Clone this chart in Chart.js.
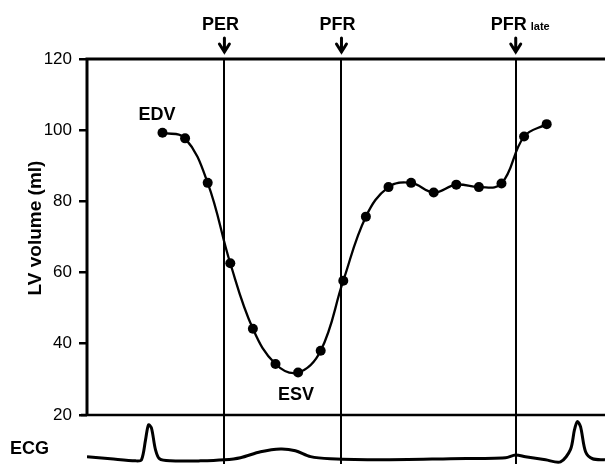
<!DOCTYPE html>
<html>
<head>
<meta charset="utf-8">
<script src="https://cdn.jsdelivr.net/npm/chart.js@4.4.1/dist/chart.umd.min.js"></script>
<style>
  body { margin: 0; background: #fff; }
  #wrap { width: 605px; height: 464px; }
</style>
</head>
<body>
<div id="wrap"><canvas id="lvChart"></canvas></div>
<script>
// frame numbers and LV volume (ml)
const frames = [1, 2, 3, 4, 5, 6, 7, 8, 9, 10, 11, 12, 13, 14, 15, 16, 17, 18];
const lvVolume = [99.3, 97.7, 85.2, 62.6, 44.2, 34.3, 31.9, 38.0, 57.7, 75.7, 84.0, 85.2, 82.5, 84.7, 84.0, 85.0, 98.2, 101.7];

// ECG trace (arbitrary mV-ish units) on the same frame axis
const ecgX = [-2.34, -1.3, -0.19, 0.07, 0.25, 0.38, 0.51, 0.69, 0.87, 1.35, 2.68, 3.74, 4.45, 5.34, 6.22, 6.88, 7.55, 8.43, 10.65, 13.74, 16.18, 16.62, 17.06, 17.95, 18.61, 19.05, 19.23, 19.36, 19.5, 19.72, 20.03, 20.58];
const ecgY = [0.09, 0.03, -0.03, 0.0, 0.57, 1.0, 0.91, 0.29, 0.03, -0.03, -0.03, 0.0, 0.06, 0.23, 0.31, 0.26, 0.09, 0.03, 0.0, 0.03, 0.06, 0.14, 0.09, 0.0, -0.06, 0.29, 0.86, 1.09, 0.94, 0.23, 0.03, 0.0];

const yTicks = [20, 40, 60, 80, 100, 120];

// event markers
const markerNames = ['PER', 'PFR', 'PFR'];
const markerSub = ['', '', 'late'];
const markerX = [3.74, 8.92, 16.63];

const FONT = '"Liberation Sans", Arial, sans-serif';

const overlay = {
  id: 'overlay',
  beforeDatasetsDraw(chart) {
    const { ctx, chartArea, scales } = chart;
    ctx.save();
    ctx.strokeStyle = '#000';
    ctx.lineWidth = 2;
    markerX.forEach(v => {
      const px = Math.round(scales.x.getPixelForValue(v));
      ctx.beginPath();
      ctx.moveTo(px, chartArea.top);
      ctx.lineTo(px, chartArea.bottom);
      ctx.stroke();
    });
    // axes frame
    const yTop = scales.y.getPixelForValue(120);
    const yBot = scales.y.getPixelForValue(20);
    ctx.lineWidth = 3;
    ctx.beginPath();
    ctx.moveTo(chartArea.left, yTop);
    ctx.lineTo(chartArea.right, yTop);
    ctx.moveTo(chartArea.left, yTop - 1.5);
    ctx.lineTo(chartArea.left, yBot);
    ctx.stroke();
    ctx.lineWidth = 2.5;
    ctx.beginPath();
    ctx.moveTo(chartArea.left - 6, yBot);
    ctx.lineTo(chartArea.right, yBot);
    ctx.stroke();
    ctx.restore();
  },
  afterDraw(chart) {
    const { ctx, scales } = chart;
    ctx.save();
    ctx.fillStyle = '#000';
    ctx.strokeStyle = '#000';
    ctx.textBaseline = 'alphabetic';

    markerX.forEach((v, i) => {
      const px = scales.x.getPixelForValue(v);
      ctx.font = 'bold 18px ' + FONT;
      const w = ctx.measureText(markerNames[i]).width;
      ctx.textAlign = 'left';
      if (markerSub[i]) {
        ctx.fillText(markerNames[i], px - 25, 30);
        ctx.font = 'bold 11px ' + FONT;
        ctx.fillText(markerSub[i], px - 25 + w + 4, 30);
      } else {
        ctx.fillText(markerNames[i], px - 4 - w / 2, 30);
      }
      // arrow
      ctx.lineWidth = 3;
      ctx.lineCap = 'round';
      ctx.beginPath();
      ctx.moveTo(px, 38);
      ctx.lineTo(px, 52);
      ctx.moveTo(px - 5, 44);
      ctx.lineTo(px, 52);
      ctx.lineTo(px + 5, 44);
      ctx.stroke();
    });

    ctx.font = 'bold 18px ' + FONT;
    ctx.textAlign = 'center';
    ctx.fillText('EDV', 157, 120);
    ctx.fillText('ESV', 296, 400);
    ctx.textAlign = 'left';
    ctx.fillText('ECG', 10, 454);

    // y axis title
    ctx.font = 'bold 19px ' + FONT;
    ctx.translate(41, 228);
    ctx.rotate(-Math.PI / 2);
    ctx.textAlign = 'center';
    ctx.fillText('LV volume (ml)', 0, 0);
    ctx.restore();
  }
};

const ctx = document.getElementById('lvChart');
new Chart(ctx, {
  type: 'line',
  data: {
    datasets: [{
      label: 'LV volume',
      data: frames.map((f, i) => ({ x: f, y: lvVolume[i] })),
      borderColor: '#000',
      backgroundColor: '#000',
      borderWidth: 2.3,
      pointRadius: 5,
      pointBackgroundColor: '#000',
      pointBorderWidth: 0,
      tension: 0.4
    }, {
      label: 'ECG',
      data: ecgX.map((x, i) => ({ x: x, y: ecgY[i] })),
      yAxisID: 'ecg',
      borderColor: '#000',
      borderWidth: 3,
      pointRadius: 0,
      tension: 0.3
    }]
  },
  options: {
    responsive: true,
    maintainAspectRatio: false,
    animation: false,
    layout: {
      autoPadding: false,
      padding: { left: 0, right: 0, top: 59, bottom: 0 }
    },
    plugins: {
      legend: { display: false },
      tooltip: { enabled: false }
    },
    scales: {
      x: {
        type: 'linear',
        display: false,
        min: -2.34,
        max: 20.58
      },
      y: {
        min: 6.2,
        max: 120,
        afterBuildTicks: s => { s.ticks = yTicks.map(v => ({ value: v })); },
        afterFit: s => {
          s.width = 87;
          s.paddingTop = 0;
          s.paddingBottom = 0;
        },
        border: { display: false },
        grid: {
          drawOnChartArea: false,
          drawTicks: true,
          tickLength: 8,
          lineWidth: 2.5,
          color: '#000'
        },
        ticks: {
          color: '#000',
          padding: 7,
          font: { family: FONT, size: 17 }
        }
      },
      ecg: {
        display: false,
        min: -0.12,
        max: 11.45
      }
    }
  },
  plugins: [overlay]
});
</script>
</body>
</html>
